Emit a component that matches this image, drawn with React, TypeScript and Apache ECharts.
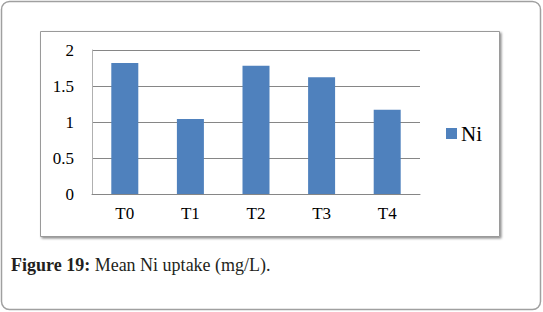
import React, { useEffect, useRef } from "react";
import * as echarts from "echarts";

const categories = ["T0", "T1", "T2", "T3", "T4"];
const niValues = [1.82, 1.04, 1.78, 1.62, 1.17];
const yTicks = [0, 0.5, 1, 1.5, 2];
const seriesName = "Ni";
const captionBold = "Figure 19:";
const captionText = " Mean Ni uptake (mg/L).";

const FONT = "'Liberation Serif', 'Times New Roman', serif";

export default function App() {
  const ref = useRef<HTMLDivElement>(null);
  useEffect(() => {
    if (!ref.current) return;
    const chart = echarts.init(ref.current, null, { renderer: "svg" });
    chart.setOption({
      animation: false,
      backgroundColor: "#ffffff",
      textStyle: { fontFamily: FONT },
      grid: { left: 92, top: 50, right: 123, bottom: 118, containLabel: false },
      xAxis: {
        type: "category",
        data: categories,
        axisTick: { show: false },
        axisLine: { show: true, lineStyle: { color: "#868686", width: 1 } },
        axisLabel: { color: "#000", fontSize: 17, fontFamily: FONT, margin: 11 },
      },
      yAxis: {
        type: "value",
        min: yTicks[0],
        max: yTicks[yTicks.length - 1],
        interval: 0.5,
        axisLine: { show: true, lineStyle: { color: "#b0b0b0", width: 1 } },
        axisTick: { show: false },
        splitLine: { show: true, lineStyle: { color: "#868686", width: 1 } },
        axisLabel: { color: "#000", fontSize: 17, fontFamily: FONT, margin: 18 },
      },
      legend: {
        data: [seriesName],
        left: 446,
        top: 123,
        padding: 0,
        itemWidth: 11,
        itemHeight: 11,
        itemGap: 0,
        icon: "rect",
        textStyle: { color: "#000", fontSize: 21, fontFamily: FONT, padding: [0, 0, 0, -1] },
      },
      title: {
        left: 11,
        top: 256,
        padding: 0,
        text: `{b|${captionBold}}{n|${captionText}}`,
        textStyle: {
          rich: {
            b: { fontFamily: FONT, fontWeight: "bold", fontSize: 18, color: "#231f20" },
            n: { fontFamily: FONT, fontWeight: "normal", fontSize: 18, color: "#231f20" },
          },
        },
      },
      graphic: [
        {
          type: "rect",
          z: -10,
          shape: { x: 1.5, y: 1.5, width: 539, height: 308, r: 8 },
          style: { fill: "#fff", stroke: "#a0a0a0", lineWidth: 1.5 },
        },
        {
          type: "rect",
          z: -9,
          shape: { x: 40.5, y: 31.5, width: 459, height: 205 },
          style: {
            fill: "#fff",
            stroke: "#9a9a9a",
            lineWidth: 1,
            shadowBlur: 2,
            shadowOffsetX: 1.5,
            shadowOffsetY: 1.5,
            shadowColor: "rgba(0,0,0,0.45)",
          },
        },
      ],
      series: [
        {
          name: seriesName,
          type: "bar",
          data: niValues,
          barWidth: 27,
          itemStyle: { color: "#4f81bd" },
        },
      ],
    });
    return () => chart.dispose();
  }, []);
  return (
    <div
      ref={ref}
      style={{ position: "fixed", left: 0, top: 0, width: 543, height: 312 }}
    />
  );
}
